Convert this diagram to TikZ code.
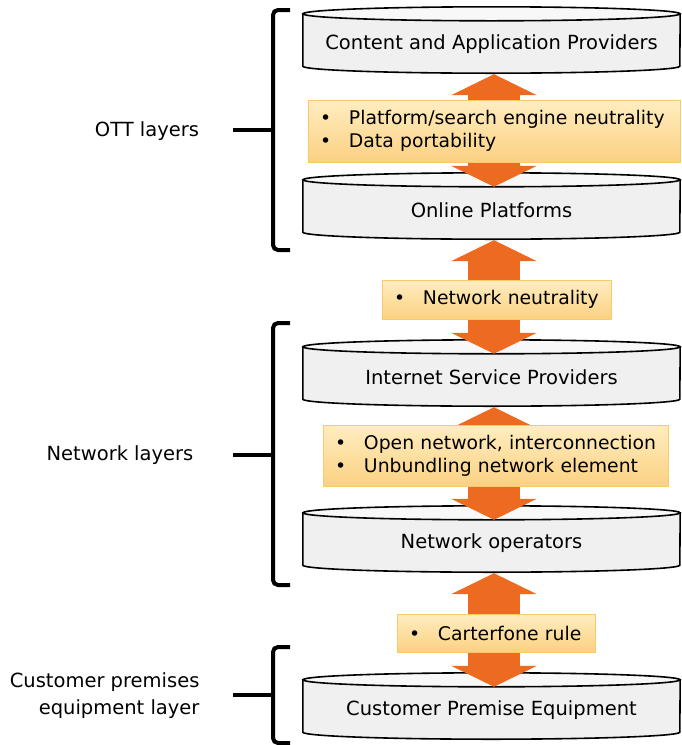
\documentclass[tikz,border=0pt]{standalone}
\usepackage{fontspec}
\setmainfont{DejaVu Sans}
\usetikzlibrary{arrows.meta,backgrounds,positioning}

\definecolor{arroworange}{RGB}{237,107,33}
\definecolor{boxtop}{RGB}{255,237,192}
\definecolor{boxbottom}{RGB}{251,209,130}
\definecolor{boxline}{RGB}{250,202,105}
\definecolor{cylgray}{RGB}{240,240,240}
\definecolor{cyltopgray}{RGB}{248,248,248}

\newcommand\ruleitem[1]{\mbox{\makebox[29pt][l]{•}#1}}

\begin{document}
\begin{tikzpicture}[x = 1pt, y = -1pt,
    every node/.style = {font = \fontsize{19.5}{23}\selectfont},
    layer/.style = {minimum width = 377pt, minimum height = 60pt, inner sep = 0pt},
    cylbody/.style = {draw = black, line width = 1.6pt, fill = cylgray},
    cyltop/.style = {draw = black, line width = 1.6pt, fill = cyltopgray},
    rulebox/.style = {draw = boxline, top color = boxtop, bottom color = boxbottom, align = left, inner xsep = 12pt, inner ysep = 0pt, font = \fontsize{18.8}{23}\selectfont},
    updown/.style = {draw = arroworange, line width = 52pt, {Triangle[width = 85pt, length = 21pt]}-{Triangle[width = 85pt, length = 21pt]}},
    brace/.style = {line width = 4pt, rounded corners = 5pt}]
    \useasboundingbox (0,0) rectangle (681,745);

    % the five layers
    \node[layer] (cap) at (491.5,44) {Content and Application Providers};
    \node[layer] (olp) at (491.5,210) {Online Platforms};
    \node[layer] (isp) at (491.5,377) {Internet Service Providers};
    \node[layer] (nop) at (491.5,543) {Network operators};
    \node[layer] (cpe) at (491.5,710) {Customer Premise Equipment};
    \begin{scope}[on background layer]
        \foreach \n in {cap,olp,isp,nop,cpe} {
            \filldraw[cylbody] (\n.north west) -- ([yshift = 8pt]\n.south west)
                arc[start angle = 180, end angle = 360, x radius = 188.5pt, y radius = 7pt]
                -- (\n.north east) -- cycle;
            \filldraw[cyltop] (\n.north) ellipse[x radius = 188.5pt, y radius = 7pt];
        }
    \end{scope}

    % arrows between layers
    \draw[updown] ([xshift = 2.5pt]cap.south) -- ([xshift = 2.5pt, yshift = -7pt]olp.north);
    \draw[updown] ([xshift = 2.5pt]olp.south) -- ([xshift = 2.5pt, yshift = -7pt]isp.north);
    \draw[updown] ([xshift = 2.5pt]isp.south) -- ([xshift = 2.5pt, yshift = -7pt]nop.north);
    \draw[updown] ([xshift = 2.5pt]nop.south) -- ([xshift = 2.5pt, yshift = -7pt]cpe.north);

    % rules
    \node[rulebox, text width = 348pt, minimum height = 62pt] (platbox) at (494,131)
        {\ruleitem{Platform/search engine neutrality}\\\ruleitem{Data portability}};
    \node[rulebox, text width = 205pt, minimum height = 39pt] (neutbox) at (496.5,299.5)
        {\ruleitem{Network neutrality}};
    \node[rulebox, text width = 321pt, minimum height = 61pt] (openbox) at (495.5,455.5)
        {\ruleitem{Open network, interconnection}\\\ruleitem{Unbundling network element}};
    \node[rulebox, text width = 174pt, minimum height = 38pt] (cartbox) at (496,633)
        {\ruleitem{Carterfone rule}};

    % braces and layer names
    \foreach \t/\m/\b in {10/130/250, 323/455/585, 647/695/743} {
        \draw[brace] (290,\t) -- (273,\t) -- (273,\b) -- (290,\b);
        \draw[line width = 4pt] (273,\m) -- (233,\m);
    }
    \node (ottname) at (147,131) {OTT layers};
    \node (netname) at (120,455) {Network layers};
    \node[align = right, anchor = east, font = \fontsize{19.5}{27}\selectfont] (cpename) at (203,696)
        {Customer premises\\equipment layer};
\end{tikzpicture}
\end{document}
